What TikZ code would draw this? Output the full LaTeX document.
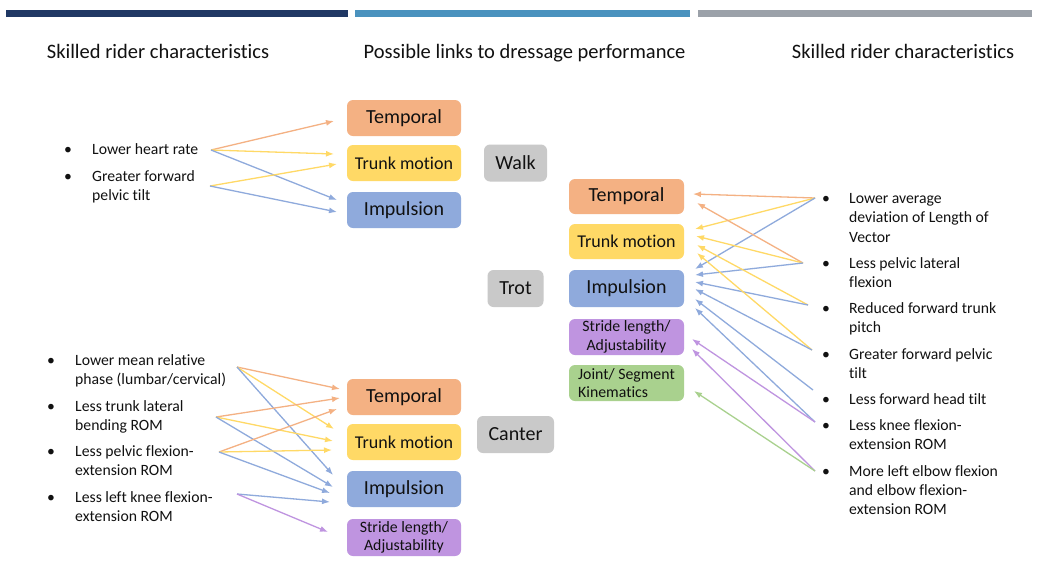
\documentclass[tikz,border=0pt]{standalone}
\usepackage{fontspec}
\setmainfont{Carlito}[Ligatures=NoCommon]
\usetikzlibrary{arrows.meta}
\definecolor{cNavy}{HTML}{203864}
\definecolor{cSteel}{HTML}{4A92BE}
\definecolor{cGrayBar}{HTML}{9BA1A9}
\definecolor{cOrange}{HTML}{F4B183}
\definecolor{cYellow}{HTML}{FFD966}
\definecolor{cBlue}{HTML}{8FAADC}
\definecolor{cPurple}{HTML}{BF94E0}
\definecolor{cGreen}{HTML}{A9D18E}
\definecolor{cGray}{HTML}{C9C9C9}
\definecolor{cText}{HTML}{111111}
\begin{document}
\begin{tikzpicture}[x=1pt,y=-1pt,
 box/.style={rounded corners=6pt, inner sep=0pt, align=center, text=cText, minimum width=114pt, minimum height=36pt},
 big/.style={font=\fontsize{20}{24}\selectfont},
 mid/.style={font=\fontsize{18}{22}\selectfont},
 small/.style={font=\fontsize{15.8}{18.5}\selectfont},
 heading/.style={font=\fontsize{20.5}{24}\selectfont, anchor=base, text=cText, inner sep=0pt},
 item/.style={font=\fontsize{15.7}{19.3}\selectfont, anchor=base west, inner sep=0pt, text=cText},
 bul/.style={font=\fontsize{15.7}{19.3}\selectfont, anchor=base, inner sep=0pt, text=cText},
 link/.style={line width=1.3pt, -{Latex[length=8pt,width=6pt]}},
]
\useasboundingbox[fill=white] (0,0) rectangle (1040,579);
% top bars
\fill[cNavy] (6,10) rectangle (348,17);
\fill[cSteel] (355,10) rectangle (690,17);
\fill[cGrayBar] (698,10) rectangle (1032,17);
% headings
\node[heading] (h1) at (158,58) {Skilled rider characteristics};
\node[heading] (h2) at (524.5,58) {Possible links to dressage performance};
\node[heading] (h3) at (903,58) {Skilled rider characteristics};

% ---------- Walk group ----------
\node[box,big,fill=cOrange] (wTemp) at (404,118) {Temporal};
\node[box,mid,fill=cYellow] (wTrunk) at (404,163) {Trunk motion};
\node[box,big,fill=cBlue] (wImp) at (404,210) {Impulsion};
\node[box,big,fill=cGray,minimum width=63pt,minimum height=37pt] (walk) at (515.5,163) {Walk};

\node[bul] (wb1) at (68,154) {•};
\node[item] (wi1) at (92,154) {Lower heart rate};
\node[bul] (wb2) at (68,181) {•};
\node[item] (wi2) at (92,181) {\begin{tabular}[t]{@{}l@{}}Greater forward\\pelvic tilt\end{tabular}};

\coordinate (wsA) at (211,150);
\coordinate (wsB) at (210,186);
\coordinate (weA1) at (334,121);
\coordinate (weA2) at (334,154);
\coordinate (weA3) at (337,200);
\coordinate (weB1) at (337,164);
\coordinate (weB2) at (337,212);
\draw[link,cOrange] (wsA) -- (weA1);
\draw[link,cYellow] (wsA) -- (weA2);
\draw[link,cBlue] (wsA) -- (weA3);
\draw[link,cYellow] (wsB) -- (weB1);
\draw[link,cBlue] (wsB) -- (weB2);

% ---------- Trot group ----------
\node[box,big,fill=cOrange,minimum width=115pt,minimum height=35pt] (tTemp) at (626.5,196.5) {Temporal};
\node[box,mid,fill=cYellow,minimum width=115pt,minimum height=35pt] (tTrunk) at (626.5,241.5) {Trunk motion};
\node[box,big,fill=cBlue,minimum width=115pt,minimum height=37pt] (tImp) at (626.5,288.5) {Impulsion};
\node[box,small,fill=cPurple,minimum width=115pt] (tStride) at (626.5,337) {Stride length/\\Adjustability};
\node[box,small,fill=cGreen,minimum width=115pt,align=left] (tJoint) at (626.5,383) {Joint/ Segment\\Kinematics};
\node[box,big,fill=cGray,minimum width=56pt,minimum height=37pt] (trot) at (515.5,288.5) {Trot};

\node[bul] (tb1) at (826,203.5) {•};
\node[item] (ti1) at (849,203.5) {\begin{tabular}[t]{@{}l@{}}Lower average\\deviation of Length of\\Vector\end{tabular}};
\node[bul] (tb2) at (826,268.5) {•};
\node[item] (ti2) at (849,268.5) {\begin{tabular}[t]{@{}l@{}}Less pelvic lateral\\flexion\end{tabular}};
\node[bul] (tb3) at (826,313.5) {•};
\node[item] (ti3) at (849,313.5) {\begin{tabular}[t]{@{}l@{}}Reduced forward trunk\\pitch\end{tabular}};
\node[bul] (tb4) at (826,359) {•};
\node[item] (ti4) at (849,359) {\begin{tabular}[t]{@{}l@{}}Greater forward pelvic\\tilt\end{tabular}};
\node[bul] (tb5) at (826,404.5) {•};
\node[item] (ti5) at (849,404.5) {Less forward head tilt};
\node[bul] (tb6) at (826,430.5) {•};
\node[item] (ti6) at (849,430.5) {\begin{tabular}[t]{@{}l@{}}Less knee flexion-\\extension ROM\end{tabular}};
\node[bul] (tb7) at (826,476) {•};
\node[item] (ti7) at (849,476) {\begin{tabular}[t]{@{}l@{}}More left elbow flexion\\and elbow flexion-\\extension ROM\end{tabular}};

\coordinate (tsA) at (815,198);
\coordinate (tsB) at (803,263);
\coordinate (tsC) at (808,305);
\coordinate (tsD) at (812,350);
\coordinate (tsE) at (813,390);
\coordinate (tsF) at (815,422);
\coordinate (tsG) at (815,471);
\coordinate (teA1) at (693,194);
\coordinate (teA2) at (695,229);
\coordinate (teA3) at (695,269);
\coordinate (teB1) at (697,203);
\coordinate (teB2) at (696,236);
\coordinate (teB3) at (695,275);
\coordinate (teC1) at (697,245);
\coordinate (teC2) at (695,282);
\coordinate (teD1) at (697,253);
\coordinate (teD2) at (695,289);
\coordinate (teE1) at (695,299);
\coordinate (teF1) at (695,308);
\coordinate (teF2) at (692,339);
\coordinate (teG1) at (692,349);
\coordinate (teG2) at (694,391);
\draw[link,cOrange] (tsA) -- (teA1);
\draw[link,cYellow] (tsA) -- (teA2);
\draw[link,cBlue] (tsA) -- (teA3);
\draw[link,cOrange] (tsB) -- (teB1);
\draw[link,cYellow] (tsB) -- (teB2);
\draw[link,cBlue] (tsB) -- (teB3);
\draw[link,cYellow] (tsC) -- (teC1);
\draw[link,cBlue] (tsC) -- (teC2);
\draw[link,cYellow] (tsD) -- (teD1);
\draw[link,cBlue] (tsD) -- (teD2);
\draw[link,cBlue] (tsE) -- (teE1);
\draw[link,cBlue] (tsF) -- (teF1);
\draw[link,cPurple] (tsF) -- (teF2);
\draw[link,cPurple] (tsG) -- (teG1);
\draw[link,cGreen] (tsG) -- (teG2);

% ---------- Canter group ----------
\node[box,big,fill=cOrange] (cTemp) at (404,397) {Temporal};
\node[box,mid,fill=cYellow] (cTrunk) at (404,442) {Trunk motion};
\node[box,big,fill=cBlue] (cImp) at (404,489) {Impulsion};
\node[box,small,fill=cPurple,minimum height=37pt] (cStride) at (404,537.5) {Stride length/\\Adjustability};
\node[box,big,fill=cGray,minimum width=77pt,minimum height=37pt] (canter) at (515.5,434.5) {Canter};

\node[bul] (cb1) at (51,365) {•};
\node[item] (ci1) at (75,365) {\begin{tabular}[t]{@{}l@{}}Lower mean relative\\phase (lumbar/cervical)\end{tabular}};
\node[bul] (cb2) at (51,411) {•};
\node[item] (ci2) at (75,411) {\begin{tabular}[t]{@{}l@{}}Less trunk lateral\\bending ROM\end{tabular}};
\node[bul] (cb3) at (51,456) {•};
\node[item] (ci3) at (75,456) {\begin{tabular}[t]{@{}l@{}}Less pelvic flexion-\\extension ROM\end{tabular}};
\node[bul] (cb4) at (51,502) {•};
\node[item] (ci4) at (75,502) {\begin{tabular}[t]{@{}l@{}}Less left knee flexion-\\extension ROM\end{tabular}};

\coordinate (cs1) at (237,367);
\coordinate (cs2) at (216,417);
\coordinate (cs3) at (219,452);
\coordinate (cs4) at (237,494);
\coordinate (ce11) at (340,389);
\coordinate (ce12) at (334,429);
\coordinate (ce13) at (333,475);
\coordinate (ce21) at (340,398);
\coordinate (ce22) at (333,441);
\coordinate (ce23) at (333,487);
\coordinate (ce31) at (337,409);
\coordinate (ce32) at (332,450);
\coordinate (ce33) at (330,493);
\coordinate (ce41) at (330,502);
\coordinate (ce42) at (328,532);
\draw[link,cOrange] (cs1) -- (ce11);
\draw[link,cYellow] (cs1) -- (ce12);
\draw[link,cBlue] (cs1) -- (ce13);
\draw[link,cOrange] (cs2) -- (ce21);
\draw[link,cYellow] (cs2) -- (ce22);
\draw[link,cBlue] (cs2) -- (ce23);
\draw[link,cOrange] (cs3) -- (ce31);
\draw[link,cYellow] (cs3) -- (ce32);
\draw[link,cBlue] (cs3) -- (ce33);
\draw[link,cBlue] (cs4) -- (ce41);
\draw[link,cPurple] (cs4) -- (ce42);
\end{tikzpicture}
\end{document}
